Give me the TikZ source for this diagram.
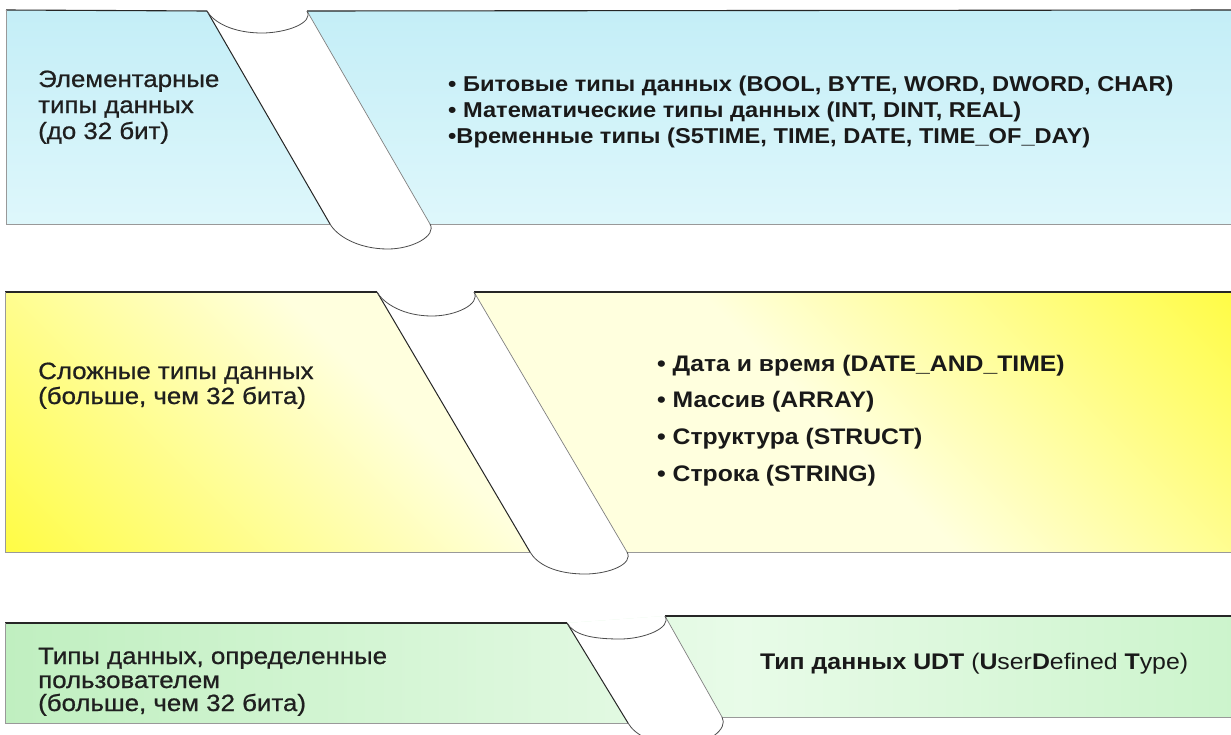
\documentclass[tikz,border=0pt]{standalone}
\usepackage{fontspec}
\setmainfont{Liberation Sans}[FakeStretch=1.1]
\newfontfamily\leftfont{Liberation Sans}[FakeStretch=1.1,FakeBold=0.8]
\definecolor{cyanA}{RGB}{196,238,247}
\definecolor{cyanB}{RGB}{222,247,251}
\definecolor{yelS}{RGB}{255,252,66}
\definecolor{yelP}{RGB}{255,255,222}
\definecolor{grnS}{RGB}{192,239,192}
\definecolor{grnP}{RGB}{232,251,232}
\definecolor{grnM}{RGB}{204,244,204}
\pgfdeclarehorizontalshading{yshade}{100bp}{color(0bp)=(yelS); color(14bp)=(yelS); color(40bp)=(yelP); color(60bp)=(yelP); color(86bp)=(yelS); color(100bp)=(yelS)}
\pgfdeclarehorizontalshading{gshade}{100bp}{color(0bp)=(grnS); color(25bp)=(grnS); color(55bp)=(grnP); color(75bp)=(grnM); color(100bp)=(grnM)}
\begin{document}
\begin{tikzpicture}[x=1pt,y=-1pt,
  edgetop/.style={draw=black!85, line width=1.1pt},
  edgeside/.style={draw=black!40, line width=0.8pt},
  tubeleft/.style={draw=black!85, line width=1pt},
  tuberight/.style={draw=black!50, line width=0.7pt},
  tubearc/.style={draw=black!70, line width=0.8pt},
  tubefill/.style={fill=white, draw=none},
  lefttxt/.style={anchor=base west, inner sep=0pt, text=black!88, font=\leftfont\fontsize{23.5}{27}\selectfont},
  listone/.style={anchor=base west, inner sep=0pt, text=black!90, font=\fontsize{21.5}{26}\selectfont\bfseries},
  listtwo/.style={anchor=base west, inner sep=0pt, text=black!90, font=\fontsize{22.5}{26}\selectfont\bfseries},
  udttxt/.style={anchor=base west, inner sep=0pt, text=black!90, font=\fontsize{22.6}{26}\selectfont}
]
\useasboundingbox (0,0) rectangle (1231,734);
\clip (0,0) rectangle (1231,734);
\fill[white] (0,0) rectangle (1231,734);

% ---------- band 1 ----------
\coordinate (a0) at (6,10);
\coordinate (aL1) at (207,11);
\coordinate (aR1) at (307,11);
\coordinate (aE1) at (1235,10);
\coordinate (aE2) at (1235,224);
\coordinate (aR2) at (430,224);
\coordinate (aL2) at (330,224);
\coordinate (a3) at (6,224);
\coordinate (aT) at (262,33);
\coordinate (aB) at (388,249);
\shade[top color=cyanA, bottom color=cyanB] (a0) -- (aL1) -- (aR1) -- (aE1) -- (aE2) -- (aR2) -- (aL2) -- (a3) -- cycle;
\draw[edgetop] (a0) -- (aL1);
\draw[edgetop] (aR1) -- (aE1);
\draw[edgeside] (a0) -- (a3) -- (aL2);
\draw[edgeside] (aR2) -- (aE2);
\path[tubefill] (aL1) -- (aR1) -- (aR2) .. controls +(7,12) and +(24,0) .. (aB) .. controls +(-30,0) and +(7,12) .. (aL2) -- cycle;
\draw[tubeleft] (aL1) -- (aL2);
\draw[tuberight] (aR1) -- (aR2);
\draw[tubearc] (aL1) .. controls +(7,12) and +(-28,0) .. (aT) .. controls +(24,0) and +(7,12) .. (aR1);
\draw[tubearc] (aL2) .. controls +(7,12) and +(-30,0) .. (aB) .. controls +(24,0) and +(7,12) .. (aR2);

% ---------- band 2 ----------
\coordinate (b0) at (5,292);
\coordinate (bL1) at (377,292);
\coordinate (bR1) at (474,292);
\coordinate (bE1) at (1235,292);
\coordinate (bE2) at (1235,552);
\coordinate (bR2) at (627,552);
\coordinate (bL2) at (530,552);
\coordinate (b3) at (5,552);
\coordinate (bT) at (432,316);
\coordinate (bB) at (585,574);
\shade[shading=yshade, shading angle=45] (b0) -- (bL1) -- (bR1) -- (bE1) -- (bE2) -- (bR2) -- (bL2) -- (b3) -- cycle;
\draw[edgetop] (b0) -- (bL1);
\draw[edgetop] (bR1) -- (bE1);
\draw[edgeside] (b0) -- (b3) -- (bL2);
\draw[edgeside] (bR2) -- (bE2);
\path[tubefill] (bL1) -- (bR1) -- (bR2) .. controls +(7,12) and +(24,0) .. (bB) .. controls +(-30,0) and +(7,12) .. (bL2) -- cycle;
\draw[tubeleft] (bL1) -- (bL2);
\draw[tuberight] (bR1) -- (bR2);
\draw[tubearc] (bL1) .. controls +(7,12) and +(-28,0) .. (bT) .. controls +(24,0) and +(7,12) .. (bR1);
\draw[tubearc] (bL2) .. controls +(7,12) and +(-30,0) .. (bB) .. controls +(24,0) and +(7,12) .. (bR2);

% ---------- band 3 ----------
\coordinate (c0) at (5,623);
\coordinate (cL1) at (567,623);
\coordinate (cR1) at (665,616);
\coordinate (cE1) at (1235,616);
\coordinate (cE2) at (1235,717);
\coordinate (cR2) at (722,717);
\coordinate (cL2) at (628,723);
\coordinate (c3) at (5,723);
\coordinate (cT) at (620,639);
\coordinate (cB) at (683,745);
\shade[shading=gshade] (c0) -- (cL1) -- (cR1) -- (cE1) -- (cE2) -- (cR2) -- (cL2) -- (c3) -- cycle;
\draw[edgetop] (c0) -- (cL1);
\draw[edgetop] (cR1) -- (cE1);
\draw[edgeside] (c0) -- (c3) -- (cL2);
\draw[edgeside] (cR2) -- (cE2);
\path[tubefill] (cL1) -- (cR1) -- (cR2) .. controls +(7,12) and +(24,0) .. (cB) .. controls +(-30,0) and +(7,12) .. (cL2) -- cycle;
\draw[tubeleft] (cL1) -- (cL2);
\draw[tuberight] (cR1) -- (cR2);
\draw[tubearc] (cL1) .. controls +(7,12) and +(-28,0) .. (cT) .. controls +(24,0) and +(7,12) .. (cR1);
\draw[tubearc] (cL2) .. controls +(7,12) and +(-30,0) .. (cB) .. controls +(24,0) and +(7,12) .. (cR2);

% ---------- texts ----------
\node[lefttxt] (t1a) at (38,87) {Элементарные};
\node[lefttxt] (t1b) at (38,113) {типы данных};
\node[lefttxt] (t1c) at (38,139) {(до 32 бит)};
\node[listone] (l1a) at (448,91) {• Битовые типы данных (BOOL, BYTE, WORD, DWORD, CHAR)};
\node[listone] (l1b) at (448,117) {• Математические типы данных (INT, DINT, REAL)};
\node[listone] (l1c) at (448,143) {•Временные типы (S5TIME, TIME, DATE, TIME\_OF\_DAY)};

\node[lefttxt] (t2a) at (38,379) {Сложные типы данных};
\node[lefttxt] (t2b) at (38,404) {(больше, чем 32 бита)};
\node[listtwo] (l2a) at (657,371) {• Дата и время (DATE\_AND\_TIME)};
\node[listtwo] (l2b) at (657,407) {• Массив (ARRAY)};
\node[listtwo] (l2c) at (657,444) {• Структура (STRUCT)};
\node[listtwo] (l2d) at (657,481) {• Строка (STRING)};

\node[lefttxt] (t3a) at (38,664) {Типы данных, определенные};
\node[lefttxt] (t3b) at (38,688) {пользователем};
\node[lefttxt] (t3c) at (38,711) {(больше, чем 32 бита)};
\node[udttxt] (u3) at (760,669) {\textbf{Тип данных UDT} (\textbf{U}ser\textbf{D}efined \textbf{T}ype)};
\end{tikzpicture}
\end{document}
